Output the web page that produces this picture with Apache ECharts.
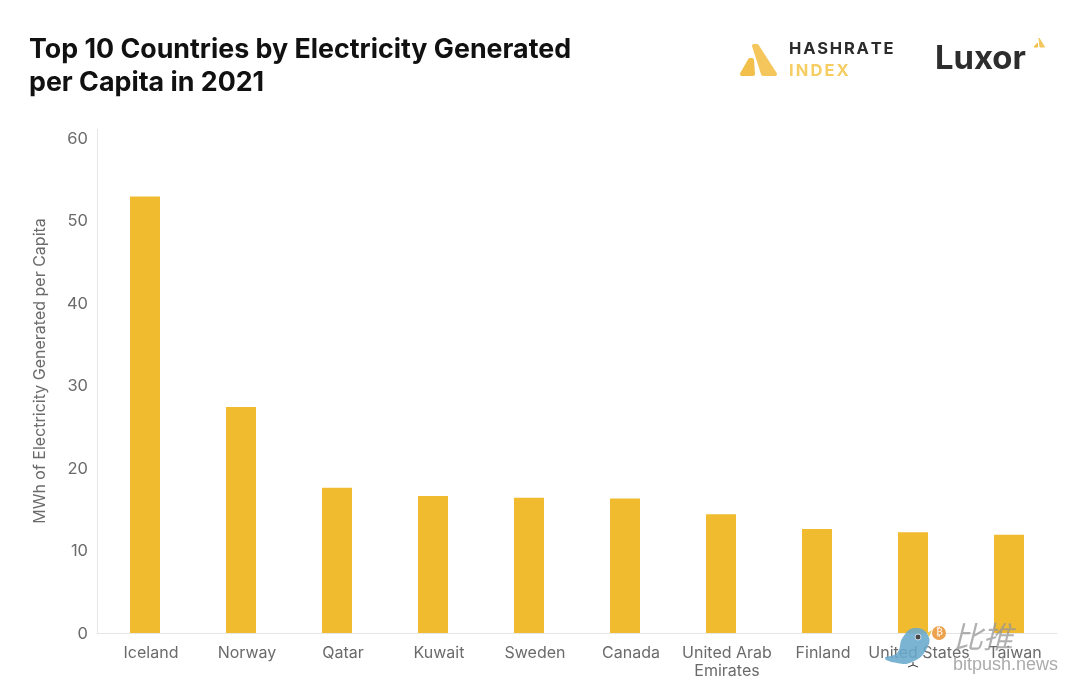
<!DOCTYPE html>
<html>
<head>
<meta charset="utf-8">
<style>
  html, body { margin: 0; padding: 0; background: #fff; }
  #chart { width: 1080px; height: 693px; }
</style>
<script src="https://cdn.jsdelivr.net/npm/echarts@6/dist/echarts.min.js"></script>
</head>
<body>
<div id="chart"></div>
<script>
const countries = ['Iceland', 'Norway', 'Qatar', 'Kuwait', 'Sweden', 'Canada', 'United Arab\nEmirates', 'Finland', 'United States', 'Taiwan']
const mwhPerCapita = [52.9, 27.4, 17.6, 16.6, 16.4, 16.3, 14.4, 12.6, 12.2, 11.9]

const myChart = echarts.init(document.getElementById('chart'))
const font = 'Inter'
const gold = '#f1bb30'

// logo triangles, rounded through lineJoin
function tri(points, color, width) {
  return {
    type: 'polygon',
    z: 10,
    shape: { points: points },
    style: { fill: color, stroke: color, lineWidth: width, lineJoin: 'round' }
  }
}

// canvas text has no letter spacing here, so the logo words go letter by letter
const measure = document.createElement('canvas').getContext('2d')
function spaced(word, left, top, size, gap, color) {
  measure.font = '700 ' + size + 'px ' + font
  let x = left
  return word.split('').map(function (ch) {
    const el = {
      type: 'text', z: 10, x: x, y: top,
      style: { text: ch, fontFamily: font, fontSize: size, fontWeight: 700, fill: color }
    }
    x += measure.measureText(ch).width + gap
    return el
  })
}

const option = {
  animation: false,
  backgroundColor: '#fff',
  title: {
    text: 'Top 10 Countries by Electricity Generated\nper Capita in 2021',
    left: 24,
    top: 29,
    textStyle: {
      fontFamily: font,
      fontSize: 26.8,
      fontWeight: 700,
      color: '#111',
      lineHeight: 32.5
    }
  },
  grid: { left: 97, right: 23, top: 138, bottom: 60 },
  xAxis: {
    type: 'category',
    data: countries,
    axisTick: { show: false },
    axisLine: { lineStyle: { color: '#e6e6e6' } },
    axisLabel: {
      interval: 0,
      fontFamily: font,
      fontSize: 16,
      color: '#6b6b6b',
      margin: 11,
      lineHeight: 18,
      padding: [0, 0, 0, 12]   // labels sit a little right of the bars
    }
  },
  yAxis: {
    type: 'value',
    min: 0,
    max: 60,
    interval: 10,
    name: 'MWh of Electricity Generated per Capita',
    nameLocation: 'middle',
    nameGap: 49,
    nameTextStyle: { fontFamily: font, fontSize: 16, color: '#6b6b6b', padding: [0, 0, 0, 29] },
    splitLine: { show: false },
    axisTick: { show: false },
    axisLine: { show: true, lineStyle: { color: '#e6e6e6' } },
    // tiny top-aligned line box drops the numbers 1px below the tick position
    axisLabel: { fontFamily: font, fontSize: 16.5, color: '#6b6b6b', margin: 9, verticalAlign: 'top', lineHeight: 2 }
  },
  series: [
    {
      type: 'bar',
      data: mwhPerCapita,
      barWidth: 30,
      itemStyle: { color: gold }
    }
  ],
  graphic: [
    // axis line runs a bit past the 60 tick
    {
      type: 'line', z: 1,
      shape: { x1: 97.5, y1: 129, x2: 97.5, y2: 138 },
      style: { stroke: '#e6e6e6', lineWidth: 1 }
    },
    // Hashrate Index logo
    tri([[742, 74], [753, 74], [752, 60], [750, 60]], '#f2c04a', 4),
    tri([[754, 46], [757, 46], [775, 74], [763, 74]], '#f4c65c', 4),
    ...spaced('HASHRATE', 789, 41, 16.5, 1.8, '#2b2b2b'),
    ...spaced('INDEX', 789, 63, 16.5, 2.1, '#f5cd62'),
    // Luxor logo
    {
      type: 'text', z: 10, left: 935, top: 43,
      style: { text: 'Luxor', fontFamily: font, fontSize: 32.8, fontWeight: 700, fill: '#2d2d2d' }
    },
    tri([[1034, 47], [1037.5, 47], [1037.5, 43]], '#f2c04a', 1),
    tri([[1039, 38], [1044.5, 47], [1040, 47]], '#f4c65c', 1),
    // bitpush watermark
    {
      type: 'text', z: 20, left: 953, top: 622,
      style: { text: '比推', fontFamily: 'Noto Sans CJK SC', fontSize: 30, fontStyle: 'italic', fill: 'rgba(150,150,150,0.75)' }
    },
    {
      type: 'text', z: 20, left: 953, top: 656,
      style: { text: 'bitpush.news', fontFamily: 'Liberation Sans', fontSize: 18, fill: 'rgba(150,150,150,0.8)' }
    },
    {
      type: 'circle', z: 20,
      shape: { cx: 939, cy: 633, r: 7 },
      style: { fill: '#eda24e' }
    },
    {
      type: 'text', z: 21, left: 936, top: 627,
      style: { text: '₿', fontFamily: 'DejaVu Sans', fontSize: 10, fill: '#fff' }
    },
    // bird
    {
      type: 'polygon', z: 20,
      shape: {
        points: [[885, 658], [897, 653], [903, 637], [915, 628], [928, 635], [926, 650], [912, 662], [897, 663]],
        smooth: 0.5
      },
      style: { fill: 'rgba(105,170,205,0.88)' }
    },
    {
      type: 'polygon', z: 20,
      shape: { points: [[927, 633], [932, 630], [929, 637]] },
      style: { fill: '#f2c94c' }
    },
    {
      type: 'circle', z: 21,
      shape: { cx: 918, cy: 637, r: 3 },
      style: { fill: '#4a4a4a', stroke: '#cfe0ea', lineWidth: 1 }
    },
    {
      type: 'polyline', z: 20,
      shape: { points: [[913, 662], [913, 665]] },
      style: { stroke: '#333', lineWidth: 1 }
    },
    {
      type: 'polyline', z: 20,
      shape: { points: [[908, 667], [913, 665], [918, 667]] },
      style: { stroke: '#333', fill: 'none', lineWidth: 1 }
    }
  ]
}

myChart.setOption(option)
window.addEventListener('resize', function () {
  myChart.resize()
})
</script>
</body>
</html>
